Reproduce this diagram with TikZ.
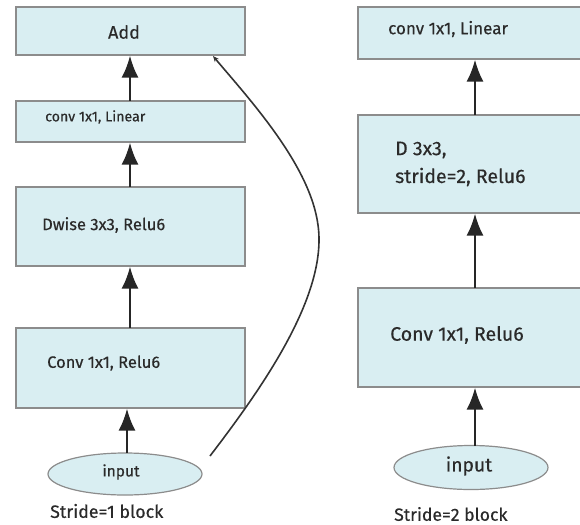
\documentclass[tikz,border=0pt]{standalone}
\usepackage{fontspec}
\setmainfont{Fira Sans}[FakeBold=0.4,AutoFakeBold=0.4]
\usetikzlibrary{arrows.meta,shapes.geometric}
\definecolor{boxfill}{HTML}{D9EEF2}
\definecolor{boxline}{HTML}{8C8C8C}
\definecolor{txt}{HTML}{2A2A2A}
\tikzset{
  blk/.style={draw=boxline, line width=1.2pt, fill=boxfill, rectangle, inner sep=0pt},
  inp/.style={draw=boxline, line width=1.2pt, fill=boxfill, ellipse, inner sep=0pt},
  lbl/.style={text=txt, inner sep=0pt, anchor=west},
  flow/.style={draw=black!85, line width=2.3pt, -{Latex[length=22pt,width=17pt]}},
  skip/.style={draw=black!80, line width=1.6pt, -{Stealth[length=6pt,width=5pt]}},
}
\begin{document}
\begin{tikzpicture}[x=1pt,y=-1pt]
\useasboundingbox[fill=white] (0,0) rectangle (580,524);
% left column
\node[blk, minimum width=229pt, minimum height=48pt] (add) at (130.5,31) {};
\node[blk, minimum width=229pt, minimum height=41pt] (lin1) at (130.5,121.5) {};
\node[blk, minimum width=229pt, minimum height=79pt] (dw) at (130.5,226.5) {};
\node[blk, minimum width=229pt, minimum height=80pt] (c1) at (130.5,368) {};
\node[inp, minimum width=154pt, minimum height=42pt] (in1) at (125,474) {};
\node[text=txt, inner sep=0pt, font=\fontsize{18}{21}\bfseries] (tadd) at (124,32) {Add};
\node[lbl, font=\fontsize{14.2}{17}\bfseries] (tlin1) at (45,117) {conv 1x1, Linear};
\node[lbl, font=\fontsize{16.5}{19}\bfseries] (tdw) at (42,225) {Dwise 3x3, Relu6};
\node[lbl, font=\fontsize{16.5}{19}\bfseries] (tc1) at (47,363) {Conv 1x1, Relu6};
\node[text=txt, inner sep=0pt, font=\fontsize{15.5}{18}\bfseries] (tin1) at (121,472) {input};
\node[lbl, font=\fontsize{17.8}{21}\bfseries] (cap1) at (50,511) {Stride=1 block};
% right column
\node[blk, minimum width=232pt, minimum height=52pt] (lin2) at (474,33) {};
\node[blk, minimum width=232pt, minimum height=98pt] (d2) at (474,164) {};
\node[blk, minimum width=232pt, minimum height=99pt] (c2) at (474,337.5) {};
\node[inp, minimum width=154pt, minimum height=44pt] (in2) at (471,467.5) {};
\node[lbl, font=\fontsize{17}{20}\bfseries] (tlin2) at (388,29) {conv 1x1, Linear};
\node[lbl, font=\fontsize{19.5}{23}\bfseries] (td2a) at (395,150) {D 3x3,};
\node[lbl, font=\fontsize{19.5}{23}\bfseries] (td2b) at (395,177) {stride=2, Relu6};
\node[lbl, font=\fontsize{19.5}{23}\bfseries] (tc2) at (390,335) {Conv 1x1, Relu6};
\node[text=txt, inner sep=0pt, font=\fontsize{19.3}{23}\bfseries] (tin2) at (469,466) {input};
\node[lbl, font=\fontsize{17.6}{21}\bfseries] (cap2) at (394,514) {Stride=2 block};
% arrows left
\coordinate (a1s) at (127,453);
\draw[flow] (a1s) -- (a1s |- c1.south);
\coordinate (a2s) at (130,328);
\draw[flow] (a2s) -- (a2s |- dw.south);
\coordinate (a3s) at (130,187);
\draw[flow] (a3s) -- (a3s |- lin1.south);
\coordinate (a4s) at (130,101);
\draw[flow] (a4s) -- (a4s |- add.south);
% skip connection
\coordinate (sk0) at (210,456);
\coordinate (sk1) at (213,56);
\draw[skip] (sk0) .. controls (262,388) and (328,295) .. (318,225)
            .. controls (310,165) and (250,100) .. (sk1);
% arrows right
\coordinate (b1s) at (475,445.5);
\draw[flow] (b1s) -- (b1s |- c2.south);
\coordinate (b2s) at (475,288);
\draw[flow] (b2s) -- (b2s |- d2.south);
\coordinate (b3s) at (475,115);
\draw[flow] (b3s) -- (b3s |- lin2.south);
\end{tikzpicture}
\end{document}
